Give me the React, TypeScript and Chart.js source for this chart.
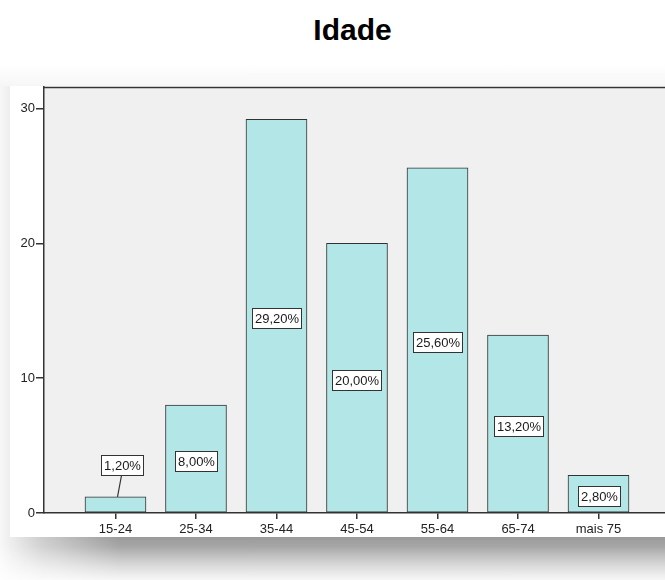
import { useEffect, useRef } from "react";
import { Chart, registerables } from "chart.js";

Chart.register(...registerables);

const chartTitle = "Idade";
const categories = ["15-24", "25-34", "35-44", "45-54", "55-64", "65-74", "mais 75"];
const percentValues = [1.2, 8.0, 29.2, 20.0, 25.6, 13.2, 2.8];
const yTicks = [0, 10, 20, 30];
const yMax = 31.6;

const FONT = '"Liberation Sans", Arial, sans-serif';

const plotBackground = {
  id: "plotBackground",
  beforeDraw(chart: any) {
    const { ctx, chartArea, width, height } = chart;
    ctx.save();
    ctx.fillStyle = "#ffffff";
    ctx.fillRect(0, 0, width, height);
    ctx.fillStyle = "#f0f0f0";
    ctx.fillRect(chartArea.left, chartArea.top, chartArea.right - chartArea.left, chartArea.bottom - chartArea.top);
    ctx.restore();
  },
  afterDraw(chart: any) {
    const { ctx, chartArea } = chart;
    ctx.save();
    ctx.strokeStyle = "#333333";
    ctx.lineWidth = 1.5;
    ctx.beginPath();
    ctx.moveTo(chartArea.left, chartArea.top + 0.5);
    ctx.lineTo(chartArea.right, chartArea.top + 0.5);
    ctx.stroke();
    ctx.restore();
  },
};

const barLabels = {
  id: "barLabels",
  afterDatasetsDraw(chart: any) {
    const { ctx } = chart;
    const meta = chart.getDatasetMeta(0);
    ctx.save();
    ctx.font = `13px ${FONT}`;
    meta.data.forEach((bar: any, i: number) => {
      const { x, y, base } = bar.getProps(["x", "y", "base"], true);
      const text = percentValues[i].toFixed(2).replace(".", ",") + "%";
      const tw = ctx.measureText(text).width;
      const bw = Math.round(tw + 5);
      const bh = 20;
      const h = base - y;
      let cx = x;
      let cy = (y + base) / 2 + 2;
      let leader = false;
      if (h < bh + 6) {
        cx = x + 7;
        cy = y - 32;
        leader = true;
      }
      const left = Math.round(cx - bw / 2) + 0.5;
      const top = Math.round(cy - bh / 2) + 0.5;
      if (leader) {
        ctx.strokeStyle = "#333333";
        ctx.lineWidth = 1.2;
        ctx.beginPath();
        ctx.moveTo(cx - 1, top + bh);
        ctx.lineTo(x + 2, y);
        ctx.stroke();
      }
      ctx.fillStyle = "#ffffff";
      ctx.fillRect(left, top, bw, bh);
      ctx.strokeStyle = "#333333";
      ctx.lineWidth = 1;
      ctx.strokeRect(left, top, bw, bh);
      ctx.fillStyle = "#1a1a1a";
      ctx.textAlign = "center";
      ctx.textBaseline = "middle";
      ctx.fillText(text, left + bw / 2, top + bh / 2 + 0.5);
    });
    ctx.restore();
  },
};

export default function App() {
  const canvasRef = useRef<HTMLCanvasElement | null>(null);

  useEffect(() => {
    if (!canvasRef.current) return;
    const chart = new Chart(canvasRef.current, {
      type: "bar",
      data: {
        datasets: [
          {
            data: percentValues.map((v, i) => ({ x: i, y: v })),
            backgroundColor: "#b3e6e6",
            borderColor: "#333333",
            borderWidth: 1,
            borderSkipped: false,
            barThickness: 61,
          } as any,
        ],
      },
      options: {
        responsive: false,
        animation: false,
        devicePixelRatio: 1,
        layout: { padding: { top: 1, left: 0, right: 0, bottom: 0 } },
        plugins: {
          legend: { display: false },
          title: { display: false },
          tooltip: { enabled: false },
        },
        scales: {
          x: {
            type: "linear",
            min: -0.888,
            max: 6.826,
            offset: false,
            afterBuildTicks: (scale: any) => {
              scale.ticks = categories.map((_, i) => ({ value: i }));
            },
            afterFit: (scale: any) => {
              scale.height = 24;
              scale.paddingLeft = 0;
              scale.paddingRight = 0;
            },
            grid: {
              drawOnChartArea: false,
              drawTicks: true,
              tickLength: 6,
              offset: false,
              color: "#333333",
              lineWidth: 1.5,
            },
            border: { display: true, color: "#333333", width: 1.5 },
            ticks: {
              autoSkip: false,
              maxRotation: 0,
              padding: 3,
              color: "#222222",
              font: { family: FONT, size: 13 },
              callback: (_v: any, index: number) => categories[index],
            },
          },
          y: {
            type: "linear",
            min: 0,
            max: yMax,
            afterBuildTicks: (scale: any) => {
              scale.ticks = yTicks.map((v) => ({ value: v }));
            },
            afterFit: (scale: any) => {
              scale.width = 34;
              scale.paddingTop = 0;
              scale.paddingBottom = 0;
            },
            grid: {
              drawOnChartArea: false,
              drawTicks: true,
              tickLength: 8,
              color: "#333333",
              lineWidth: 1.5,
            },
            border: { display: true, color: "#333333", width: 1.5 },
            ticks: {
              padding: 1,
              color: "#222222",
              font: { family: FONT, size: 13 },
            },
          },
        },
      } as any,
      plugins: [plotBackground, barLabels],
    });
    return () => chart.destroy();
  }, []);

  return (
    <div
      style={{
        position: "absolute",
        left: 0,
        top: 0,
        width: 665,
        height: 580,
        background: "#ffffff",
        overflow: "hidden",
      }}
    >
      <div
        style={{
          position: "absolute",
          left: 0,
          top: 64,
          width: 665,
          height: 22,
          background: "linear-gradient(to bottom, #ffffff 0%, #f6f6f6 100%)",
        }}
      />
      <div
        style={{
          position: "absolute",
          left: 0,
          top: 86,
          width: 10,
          height: 451,
          background: "linear-gradient(to right, #f7f7f7 0%, #eeeeee 100%)",
        }}
      />
      <div
        style={{
          position: "absolute",
          left: 0,
          top: 537,
          width: 665,
          height: 43,
          background:
            "linear-gradient(to bottom, #9a9a9a 0%, #a6a6a6 22%, #c2c2c2 45%, #d8d8d8 65%, #e8e8e8 82%, #f6f6f6 100%)",
        }}
      />
      <div
        style={{
          position: "absolute",
          left: 0,
          top: 537,
          width: 120,
          height: 43,
          background: "linear-gradient(to right, rgba(255,255,255,0.92) 0%, rgba(255,255,255,0.5) 35%, rgba(255,255,255,0) 100%)",
        }}
      />
      <div
        style={{
          position: "absolute",
          left: 352.5,
          top: 14.6,
          transform: "translateX(-50%)",
          fontFamily: FONT,
          fontWeight: "bold",
          fontSize: 30,
          lineHeight: "30px",
          color: "#000000",
          whiteSpace: "nowrap",
        }}
      >
        {chartTitle}
      </div>
      <canvas
        ref={canvasRef}
        width={655}
        height={451}
        style={{ position: "absolute", left: 10, top: 86, width: 655, height: 451 }}
      />
    </div>
  );
}
